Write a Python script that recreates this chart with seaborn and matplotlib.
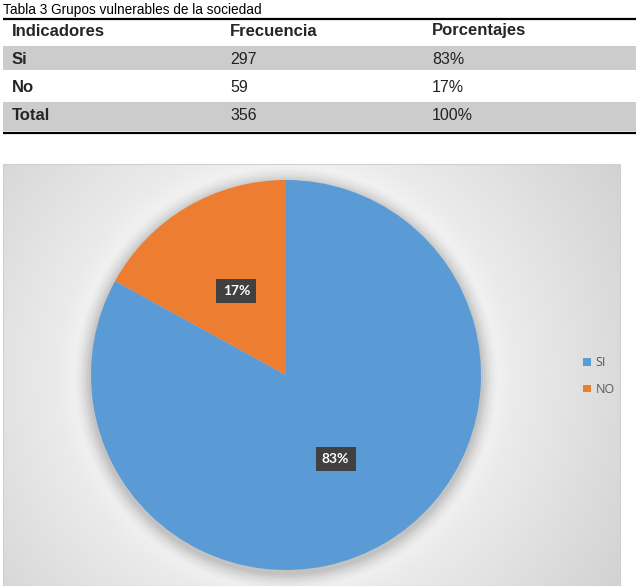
import numpy as np
import matplotlib
matplotlib.use("Agg")
import matplotlib.pyplot as plt
import seaborn as sns
from matplotlib.patches import Rectangle, Circle

# ---- data ----
title = "Tabla 3 Grupos vulnerables de la sociedad"
headers = ["Indicadores", "Frecuencia", "Porcentajes"]
row_labels = ["Si", "No", "Total"]
frequencies = [297, 59, 356]
percentages = ["83%", "17%", "100%"]

pie_labels = ["SI", "NO"]
pie_values = [83, 17]
pie_colors = ["#5B9BD5", "#ED7D31"]

sns.set_theme(style="white")
plt.rcParams['font.family'] = ['Liberation Sans', 'DejaVu Sans']

W, H = 640, 586
fig = plt.figure(figsize=(W / 100, H / 100), dpi=100)
fig.patch.set_facecolor("white")

# ---- table in pixel coordinates ----
axt = fig.add_axes([0, 0, 1, 1])
axt.set_xlim(0, W)
axt.set_ylim(H, 0)
axt.axis("off")

axt.text(3, 10, title, fontsize=9.8, va="center", ha="left", color="black")
axt.plot([3, 636], [18.5, 18.5], color="black", lw=1.6, solid_capstyle="butt")
col_x = [12, 230, 432]
for x, h in zip(col_x, headers):
    axt.text(x, 31, h, fontsize=12, fontweight="bold", va="center", ha="left")

row_y = [59, 87, 115]
row_bands = [(46, 70), None, (102, 131)]
for lab, f, p, y, band in zip(row_labels, frequencies, percentages, row_y, row_bands):
    if band:
        axt.add_patch(Rectangle((3, band[0]), 633, band[1] - band[0],
                                facecolor="#cccccc", edgecolor="none"))
    axt.text(col_x[0], y, lab, fontsize=12, fontweight="bold", va="center", ha="left")
    axt.text(col_x[1], y, str(f), fontsize=11.5, va="center", ha="left", color="#222222")
    axt.text(col_x[2], y, p, fontsize=11.5, va="center", ha="left", color="#222222")
axt.plot([3, 636], [133, 133], color="black", lw=1.6, solid_capstyle="butt")

# ---- chart box background (radial gradient) ----
bx0, bx1, by0, by1 = 3, 620, 164, 586
cx, cy, R = 286, 375, 195
yy, xx = np.mgrid[by0:by1, bx0:bx1]
r = np.hypot(xx - cx, yy - cy)
val = np.interp(r, [0, 190, 230, 330, 420], [0.99, 0.97, 0.92, 0.86, 0.81])
img = np.dstack([val, val, val])
axt.imshow(img, extent=[bx0, bx1, by1, by0], aspect="auto", zorder=0.5,
           interpolation="bilinear")
axt.add_patch(Rectangle((bx0, by0), bx1 - bx0, by1 - by0, fill=False,
                        edgecolor="#d0d0d0", lw=0.8, zorder=0.6))
# soft shadow around pie
for k, a in enumerate(np.linspace(0.04, 0.01, 8)):
    axt.add_patch(Circle((cx, cy + 3), R + 2 + 2 * k, facecolor="black",
                         edgecolor="none", alpha=a, zorder=0.7))
axt.set_xlim(0, W)
axt.set_ylim(H, 0)

# ---- pie ----
axp = fig.add_axes([(cx - R) / W, (H - cy - R) / H, 2 * R / W, 2 * R / H])
wedges, texts, autotexts = axp.pie(
    pie_values, colors=pie_colors, startangle=90, counterclock=False,
    autopct=lambda p: f"{p:.0f}%", pctdistance=0.5,
    wedgeprops=dict(edgecolor="none", linewidth=0))
for t in autotexts:
    t.set_color("white")
    t.set_fontweight("bold")
    t.set_fontsize(10)
    t.set_family(["Lato", "DejaVu Sans"])
    t.set_bbox(dict(boxstyle="square,pad=0.45", facecolor="#404040",
                    edgecolor="none"))
axp.set_xlim(-1, 1)
axp.set_ylim(-1, 1)
axp.set_aspect("equal")
axp.axis("off")

leg = fig.legend(wedges, pie_labels, loc="center left",
                 bbox_to_anchor=(572 / W, 1 - 376 / H), frameon=False,
                 handlelength=0.6, handleheight=0.6, handletextpad=0.4,
                 labelspacing=1.1, prop=dict(family=["Open Sans", "DejaVu Sans"], size=9))
for t in leg.get_texts():
    t.set_color("#595959")

fig.savefig("out.png", dpi=100)
